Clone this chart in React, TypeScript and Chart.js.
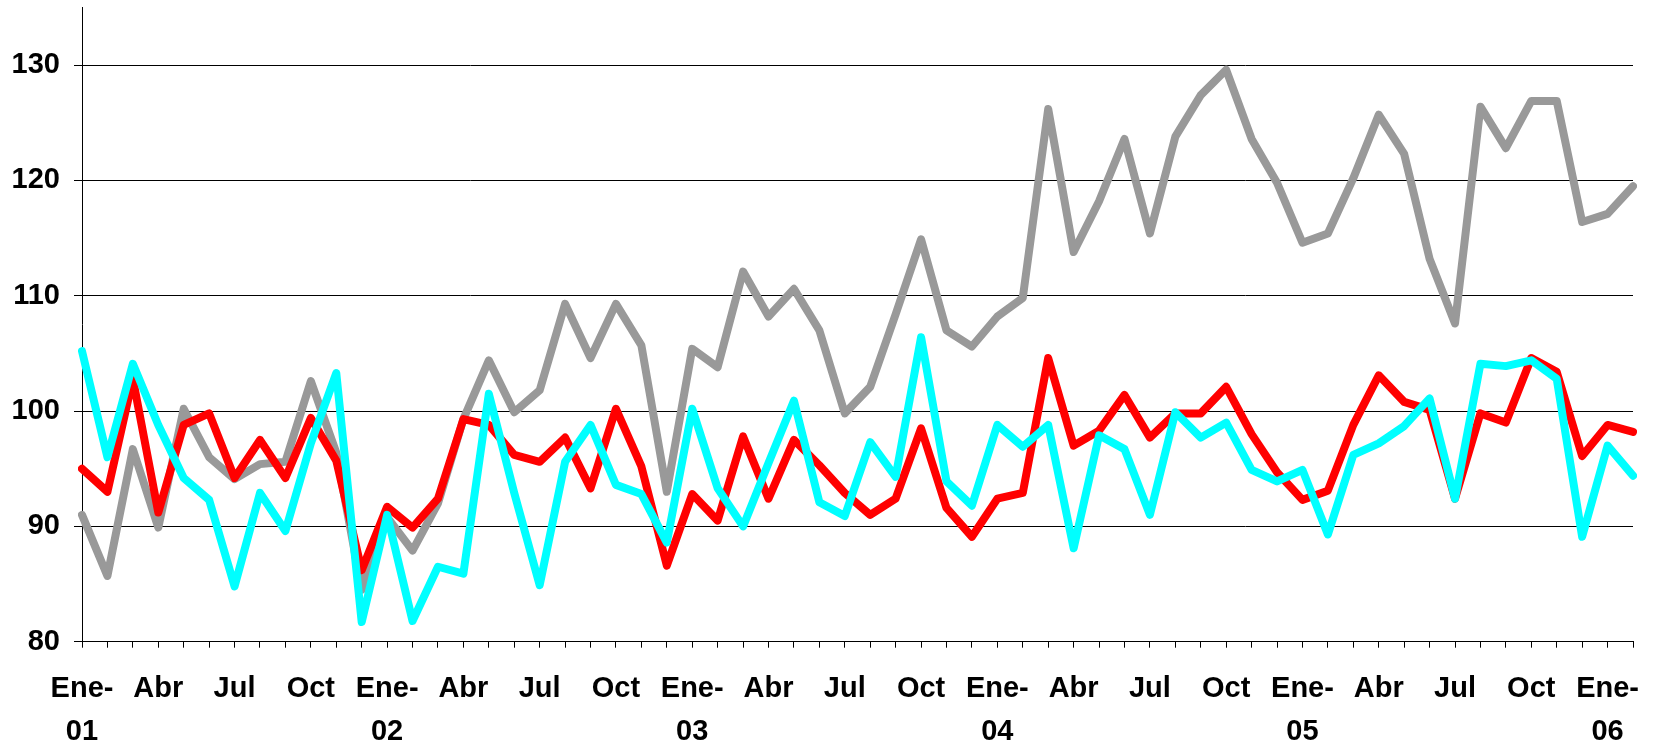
import React, { useEffect, useRef } from "react";
import { Chart, registerables } from "chart.js";

Chart.register(...registerables);

// Categories: monthly, Ene-01 .. Feb-06
const monthNames = ["Ene", "Feb", "Mar", "Abr", "May", "Jun", "Jul", "Ago", "Sep", "Oct", "Nov", "Dic"];
const years = ["01", "02", "03", "04", "05", "06"];
const shownMonths = ["Ene", "Abr", "Jul", "Oct"];
const yTicks = [80, 90, 100, 110, 120, 130];
const Y_MIN = 80;
const Y_MAX = 135;
const N_MONTHS = 62;

const categories: string[] = [];
for (let i = 0; i < N_MONTHS; i++) {
  categories.push(monthNames[i % 12] + "-" + years[Math.floor(i / 12)]);
}

// Series values
const graySeries = [
  91.0, 85.7, 96.7, 89.9, 100.2, 96.0, 94.1, 95.4, 95.6, 102.6, 96.4, 84.5,
  90.8, 87.9, 92.0, 99.3, 104.4, 99.9, 101.8, 109.3, 104.6, 109.3, 105.7, 93.0,
  105.4, 103.8, 112.1, 108.2, 110.6, 107.0, 99.8, 102.1, 108.4, 114.9, 107.0, 105.6,
  108.2, 109.8, 126.2, 113.8, 118.2, 123.6, 115.4, 123.8, 127.4, 129.6, 123.6, 119.8,
  114.6, 115.4, 120.2, 125.7, 122.3, 113.2, 107.6, 126.4, 122.8, 126.9, 126.9, 116.4,
  117.1, 119.5,
];

const redSeries = [
  95.0, 93.0, 102.8, 91.2, 98.8, 99.8, 94.2, 97.5, 94.2, 99.4, 95.7, 86.2,
  91.7, 89.9, 92.4, 99.3, 98.8, 96.2, 95.6, 97.7, 93.3, 100.2, 95.2, 86.6,
  92.8, 90.5, 97.8, 92.4, 97.5, 95.3, 92.9, 91.0, 92.4, 98.5, 91.6, 89.1,
  92.4, 92.9, 104.6, 97.0, 98.3, 101.4, 97.7, 99.8, 99.8, 102.1, 98.0, 94.7,
  92.3, 93.1, 98.8, 103.1, 100.8, 100.1, 92.4, 99.8, 99.0, 104.6, 103.4, 96.1,
  98.8, 98.2,
];

const cyanSeries = [
  105.2, 96.0, 104.1, 98.8, 94.2, 92.3, 84.8, 92.9, 89.6, 97.2, 103.3, 81.7,
  91.0, 81.8, 86.5, 85.9, 101.5, 92.9, 84.9, 95.6, 98.8, 93.6, 92.8, 88.6,
  100.2, 93.3, 90.0, 95.5, 100.9, 92.1, 90.9, 97.3, 94.3, 106.4, 93.9, 91.8,
  98.8, 96.9, 98.8, 88.1, 97.9, 96.7, 91.0, 99.9, 97.7, 99.0, 94.9, 93.9,
  94.9, 89.3, 96.2, 97.2, 98.7, 101.1, 92.4, 104.1, 103.9, 104.4, 102.8, 89.1,
  97.0, 94.4,
];

const FONT_FAMILY = "'Liberation Sans', Arial, sans-serif";

export default function App() {
  const ref = useRef<HTMLCanvasElement>(null);

  useEffect(() => {
    if (!ref.current) return;
    const lineCommon = {
      borderWidth: 8,
      pointRadius: 0,
      pointHoverRadius: 0,
      tension: 0,
      fill: false,
      borderJoinStyle: "round" as const,
      borderCapStyle: "round" as const,
    };
    const chart = new Chart(ref.current, {
      type: "line",
      data: {
        labels: categories,
        datasets: [
          { label: "gris", data: graySeries, borderColor: "#999999", backgroundColor: "#999999", order: 2, ...lineCommon },
          { label: "rojo", data: redSeries, borderColor: "#FF0000", backgroundColor: "#FF0000", order: 1, ...lineCommon },
          { label: "cian", data: cyanSeries, borderColor: "#00FFFF", backgroundColor: "#00FFFF", order: 0, ...lineCommon },
        ],
      },
      options: {
        responsive: false,
        animation: false,
        devicePixelRatio: 1,
        layout: { padding: { left: 12, right: 23, top: 7.5, bottom: 0 } },
        plugins: {
          legend: { display: false },
          tooltip: { enabled: false },
          title: { display: false },
        },
        scales: {
          x: {
            type: "category",
            offset: false,
            grid: {
              drawOnChartArea: false,
              drawTicks: true,
              tickLength: 6,
              color: "#000",
              lineWidth: 1,
            },
            border: { display: true, color: "#000", width: 1 },
            ticks: {
              autoSkip: false,
              maxRotation: 0,
              minRotation: 0,
              padding: 19,
              color: "#000",
              font: { family: FONT_FAMILY, size: 29, weight: "bold", lineHeight: 1.507 },
              callback: (_v: any, index: number) => {
                const label = categories[index];
                const [m, y] = label.split("-");
                if (!shownMonths.includes(m)) return "";
                if (m === "Ene") return [m + "-", y];
                return m;
              },
            },
            afterFit: (s: any) => {
              s.height = 106.3;
              s.paddingLeft = 0;
              s.paddingRight = 0;
            },
          },
          y: {
            type: "linear",
            min: Y_MIN,
            max: Y_MAX,
            afterBuildTicks: (s: any) => {
              s.ticks = yTicks.map((v) => ({ value: v }));
            },
            grid: {
              color: "#000",
              lineWidth: 1,
              drawTicks: true,
              tickLength: 8,
            },
            border: { display: true, color: "#000", width: 1 },
            ticks: {
              padding: 14,
              color: "#000",
              font: { family: FONT_FAMILY, size: 29, weight: "bold", lineHeight: 1 },
              callback: (v: any) => String(v),
            },
            afterFit: (s: any) => {
              s.width = 70;
              s.paddingTop = 0;
              s.paddingBottom = 0;
            },
          },
        },
      },
    });
    return () => chart.destroy();
  }, []);

  return (
    <div style={{ position: "fixed", left: 0, top: 0, width: 1656, height: 748, background: "#fff" }}>
      <canvas ref={ref} width={1656} height={748} style={{ display: "block" }} />
    </div>
  );
}
